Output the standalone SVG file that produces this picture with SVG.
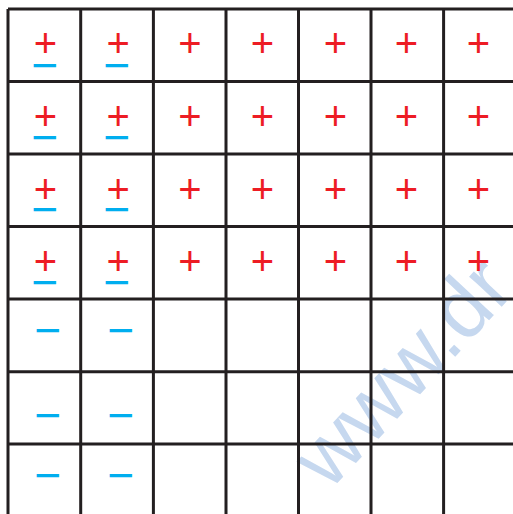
<svg xmlns="http://www.w3.org/2000/svg" width="513" height="514" viewBox="0 0 513 514">
<style>
.g{stroke:#231F20;stroke-width:3;fill:none}
.p{font-family:"Liberation Sans",Arial,sans-serif;font-size:40px;fill:#ED1C24;text-anchor:middle}
.m{font-family:"Liberation Sans",Arial,sans-serif;font-size:46px;fill:#00AEEF;text-anchor:middle}
.wm{font-family:"Liberation Sans",Arial,sans-serif;font-size:84px;fill:#C6D8EF}
</style>
<rect width="513" height="514" fill="#fff"/>
<text class="wm" transform="translate(329,492) rotate(-47)">www.dr</text>
<g id="grid">
<path class="g" d="M8 9V514M80.7 9V514M153.4 9V514M226 9V514M298.5 9V514M371 9V514M443.6 9V514"/>
<path class="g" d="M8 9H513M8 81.5H513M8 154H513M8 226.5H513M8 299H513M8 371.7H513M8 444H513"/>
</g>
<g id="row0">
<text class="p" x="45.5" y="57.4">+</text><text class="m" x="45" y="80.5">−</text>
<text class="p" x="118.2" y="57.4">+</text><text class="m" x="117" y="80.5">−</text>
<text class="p" x="190" y="57.4">+</text>
<text class="p" x="262.5" y="57.4">+</text>
<text class="p" x="335.5" y="57.4">+</text>
<text class="p" x="406.5" y="57.4">+</text>
<text class="p" x="478.5" y="57.4">+</text>
</g>
<g id="row1">
<text class="p" x="45.5" y="130.4">+</text><text class="m" x="45" y="152.5">−</text>
<text class="p" x="118.2" y="130.4">+</text><text class="m" x="117" y="152.5">−</text>
<text class="p" x="190" y="130.4">+</text>
<text class="p" x="262.5" y="130.4">+</text>
<text class="p" x="335.5" y="130.4">+</text>
<text class="p" x="406.5" y="130.4">+</text>
<text class="p" x="478.5" y="130.4">+</text>
</g>
<g id="row2">
<text class="p" x="45.5" y="202.9">+</text><text class="m" x="45" y="225">−</text>
<text class="p" x="118.2" y="202.9">+</text><text class="m" x="117" y="225">−</text>
<text class="p" x="190" y="202.9">+</text>
<text class="p" x="262.5" y="202.9">+</text>
<text class="p" x="335.5" y="202.9">+</text>
<text class="p" x="406.5" y="202.9">+</text>
<text class="p" x="478.5" y="202.9">+</text>
</g>
<g id="row3">
<text class="p" x="45.5" y="274.9">+</text><text class="m" x="45" y="297.5">−</text>
<text class="p" x="118.2" y="274.9">+</text><text class="m" x="117" y="297.5">−</text>
<text class="p" x="190" y="274.9">+</text>
<text class="p" x="262.5" y="274.9">+</text>
<text class="p" x="335.5" y="274.9">+</text>
<text class="p" x="406.5" y="274.9">+</text>
<text class="p" x="478.5" y="274.9">+</text>
</g>
<g id="row4">
<text class="m" x="48" y="346">−</text><text class="m" x="121" y="346">−</text>
</g>
<g id="row5">
<text class="m" x="48" y="431">−</text><text class="m" x="121" y="431">−</text>
</g>
<g id="row6">
<text class="m" x="48" y="491">−</text><text class="m" x="121" y="491">−</text>
</g>
</svg>
